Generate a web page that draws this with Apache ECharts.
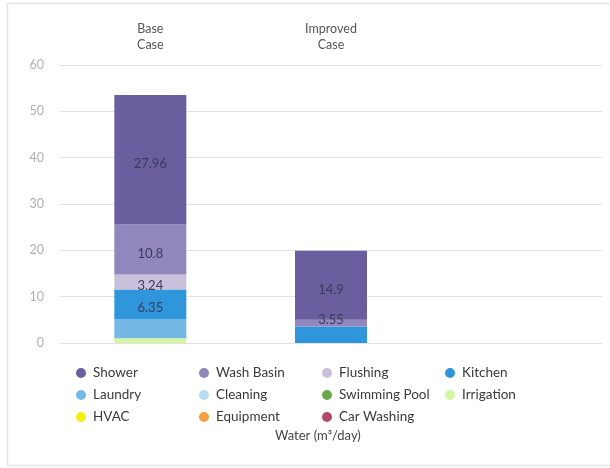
<!DOCTYPE html>
<html>
<head>
<meta charset="utf-8">
<script src="https://cdn.jsdelivr.net/npm/echarts@6/dist/echarts.min.js"></script>
<style>html,body{margin:0;padding:0;background:#fff;}#c{width:610px;height:468px;}</style>
</head>
<body>
<div id="c"></div>
<script>
// ---- data ----
const categories = ['Base\nCase', 'Improved\nCase', ''];
const legendOrder = ['Shower', 'Wash Basin', 'Flushing', 'Kitchen', 'Laundry', 'Cleaning', 'Swimming Pool', 'Irrigation', 'HVAC', 'Equipment', 'Car Washing'];
const shower     = [27.96, 14.9, null];
const washBasin  = [10.8, 1.45, null];
const flushing   = [3.24, 0, null];
const kitchen    = [6.35, 3.55, null];
const laundry    = [4.2, 0, null];
const cleaning   = [0, 0, null];
const swimming   = [0, 0, null];
const irrigation = [1.0, 0, null];
const hvac       = [0, 0, null];
const equipment  = [0, 0, null];
const carWashing = [0, 0, null];
const yTicks = [0, 10, 20, 30, 40, 50, 60];

// ---- styling ----
const colors = {
  'Shower': '#6a5e9e', 'Wash Basin': '#9187bd', 'Flushing': '#c9c1dc', 'Kitchen': '#2f96dc',
  'Laundry': '#74b9e6', 'Cleaning': '#b8dcf1', 'Swimming Pool': '#6aa84f', 'Irrigation': '#d5f5a0',
  'HVAC': '#f2ee12', 'Equipment': '#f5a042', 'Car Washing': '#b04a6c'
};
// bottom-to-top stacking order
const stackOrder = [
  ['Irrigation', irrigation], ['Laundry', laundry], ['Kitchen', kitchen], ['Flushing', flushing],
  ['Wash Basin', washBasin], ['Shower', shower], ['Cleaning', cleaning], ['Swimming Pool', swimming],
  ['HVAC', hvac], ['Equipment', equipment], ['Car Washing', carWashing]
];
const labelled = { 'Shower': [true, true], 'Wash Basin': [true, false], 'Flushing': [true, false], 'Kitchen': [true, true] };
const labelOffsets = { 'Kitchen': [[0, 4], [0, -15]] };

const series = stackOrder.map(([name, vals]) => ({
  name, type: 'bar', stack: 'total', barWidth: 72,
  itemStyle: { color: colors[name] },
  data: vals.map((v, i) => {
    const show = !!(labelled[name] && labelled[name][i]) && v;
    const off = (labelOffsets[name] && labelOffsets[name][i]) || [0, 4];
    return { value: v, label: { show: !!show, position: 'inside', offset: off,
      color: '#3d3a5a', fontSize: 13, fontFamily: 'Lato' } };
  })
}));

const chart = echarts.init(document.getElementById('c'), null, { renderer: 'canvas' });
chart.setOption({
  animation: false,
  textStyle: { fontFamily: 'Lato' },
  graphic: [{ type: 'rect', shape: { x: 7.5, y: 3.5, width: 640, height: 462 }, style: { fill: 'none', stroke: '#dfe5ea', lineWidth: 1.5 }, silent: true }],
  title: { text: 'Water (m³/day)', left: 270, top: 424, textStyle: { fontSize: 13, fontWeight: 'normal', color: '#444', fontFamily: 'Lato' } },
  legend: {
    data: legendOrder, left: 71, top: 361, width: 500, orient: 'horizontal',
    icon: 'circle', itemWidth: 10, itemHeight: 10, itemGap: 8,
    textStyle: { fontSize: 13.5, color: '#3a3a3a', fontFamily: 'Lato', width: 98, padding: [0, 0, 0, 2], lineHeight: 14 }
  },
  grid: { left: 60, right: 8, top: 65, bottom: 125 },
  xAxis: {
    type: 'category', data: categories, position: 'top',
    axisLine: { show: false }, axisTick: { show: false },
    axisLabel: { color: '#555', fontSize: 12.5, lineHeight: 16, margin: 12, fontFamily: 'Lato' }
  },
  yAxis: {
    type: 'value', min: yTicks[0], max: yTicks[yTicks.length - 1], interval: 10,
    axisLine: { show: false }, axisTick: { show: false },
    axisLabel: { color: '#b0b0b0', fontSize: 12.5, margin: 16, fontFamily: 'Lato' },
    splitLine: { lineStyle: { color: '#e2e2e2', width: 1 } }
  },
  series
});
</script>
</body>
</html>
